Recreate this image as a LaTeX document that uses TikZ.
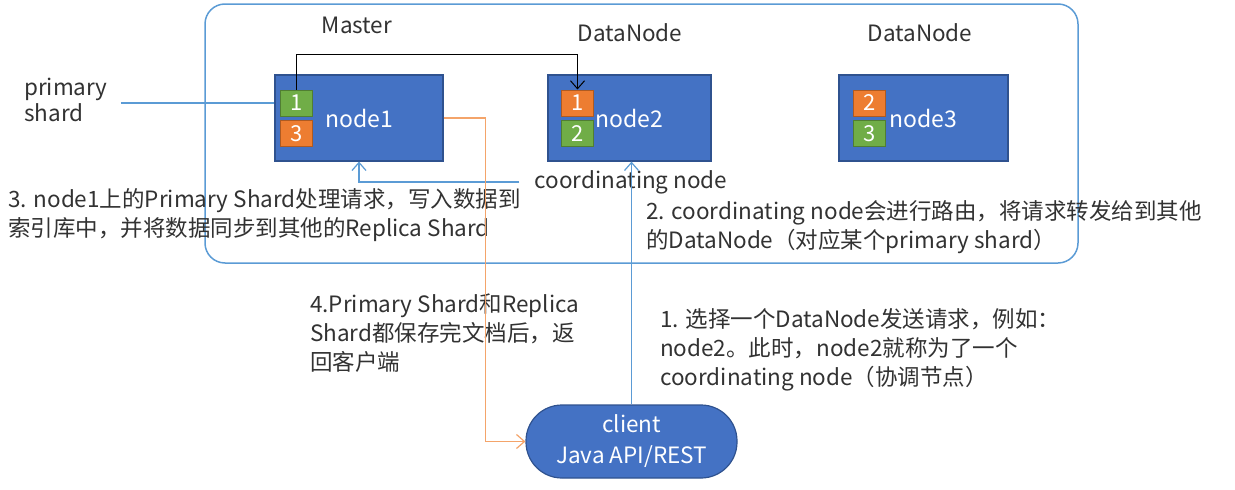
\documentclass[tikz,border=0pt]{standalone}
\usepackage{fontspec}
\setmainfont{Noto Sans CJK SC}
\usetikzlibrary{arrows.meta}
\definecolor{boxblue}{RGB}{68,114,196}
\definecolor{boxedge}{RGB}{47,82,143}
\definecolor{shardgreen}{RGB}{112,173,71}
\definecolor{greenedge}{RGB}{80,126,50}
\definecolor{shardorange}{RGB}{237,125,49}
\definecolor{orangeedge}{RGB}{174,90,33}
\definecolor{lineblue}{RGB}{91,155,213}
\definecolor{lineorange}{RGB}{244,164,106}
\definecolor{txtgray}{RGB}{50,50,50}
\tikzset{
  vnode/.style={draw=boxedge,fill=boxblue,line width=1.2pt,minimum height=86pt,text=white,font=\fontsize{23}{26}\selectfont},
  gshard/.style={draw=greenedge,fill=shardgreen,line width=1pt,minimum width=32pt,minimum height=26pt,inner sep=0pt,text=white,font=\fontsize{22}{24}\selectfont},
  oshard/.style={gshard,draw=orangeedge,fill=shardorange},
  lbl/.style={text=txtgray,inner sep=0pt,font=\fontsize{22.5}{29}\selectfont},
  note/.style={lbl,anchor=west,align=left},
  tipv/.style={-{Straight Barb[length=8pt,width=14pt]}},
}
\begin{document}
\begin{tikzpicture}[x=1pt,y=1pt,yscale=-1]
\useasboundingbox (0,0) rectangle (1235,490);

%Shape: Rounded Rect
\draw [lineblue,line width=1.5pt,rounded corners=20pt] (205,4) rectangle (1078,263);

%Shape: Rectangle
\node (n1) at (359,118) [vnode,minimum width=168pt] {node1};
\node (n2) at (629.5,118) [vnode,minimum width=163pt] {node2};
\node (n3) at (923.5,118) [vnode,minimum width=169pt] {node3};

%Shards
\node (n1s1) at (296.5,103) [gshard] {1};
\node (n1s3) at (296.5,133.5) [oshard] {3};
\node (n2s1) at (577.5,103) [oshard] {1};
\node (n2s2) at (577.5,133.5) [gshard] {2};
\node (n3s2) at (869.5,103) [oshard] {2};
\node (n3s3) at (869.5,133.5) [gshard] {3};

%Shape: Stadium
\node (client) at (631.5,441.5) [draw=boxedge,fill=boxblue,line width=1.2pt,rounded corners=36pt,minimum width=211pt,minimum height=73pt,text=white,align=center,font=\fontsize{22.5}{31}\selectfont] {client\\Java API/REST};

% Text Node
\node (master) at (357,25) [lbl] {Master};
\node (dn2) at (630,33) [lbl] {DataNode};
\node (dn3) at (920,33) [lbl] {DataNode};
\node (coord) at (631,182) [lbl] {coordinating node};
\node (primary) at (24,100) [note,font=\fontsize{22.5}{26}\selectfont] {primary\\shard};
\node (step3) at (8,215.5) [note] {3. node1上的Primary Shard处理请求，写入数据到\\索引库中，并将数据同步到其他的Replica Shard};
\node (step2) at (646,227.5) [note] {2. coordinating node会进行路由，将请求转发给到其他\\的DataNode（对应某个primary shard）};
\node (step4) at (310,333.5) [note] {4.Primary Shard和Replica\\Shard都保存完文档后，返\\回客户端};
\node (step1) at (660,349.5) [note] {1. 选择一个DataNode发送请求，例如：\\node2。此时，node2就称为了一个\\coordinating node（协调节点）};

%Connectors
\draw [tipv,line width=1pt] (n1s1.north) -- ++(0,-35) -| (n2s1.north);
\draw [lineblue,line width=1.2pt] ([xshift=13pt]primary.east |- n1s1.west) -- (n1.west |- n1s1.west);
\draw [tipv,lineblue,line width=1.2pt] ([xshift=-15pt]coord.west) -| (n1.south);
\draw [tipv,lineblue,line width=1.2pt] (client.north) -- (client.north |- n2.south);
\draw [tipv,lineorange,line width=1.2pt] (n1.east) -- ++(42,0) |- (client.west);

\end{tikzpicture}
\end{document}
